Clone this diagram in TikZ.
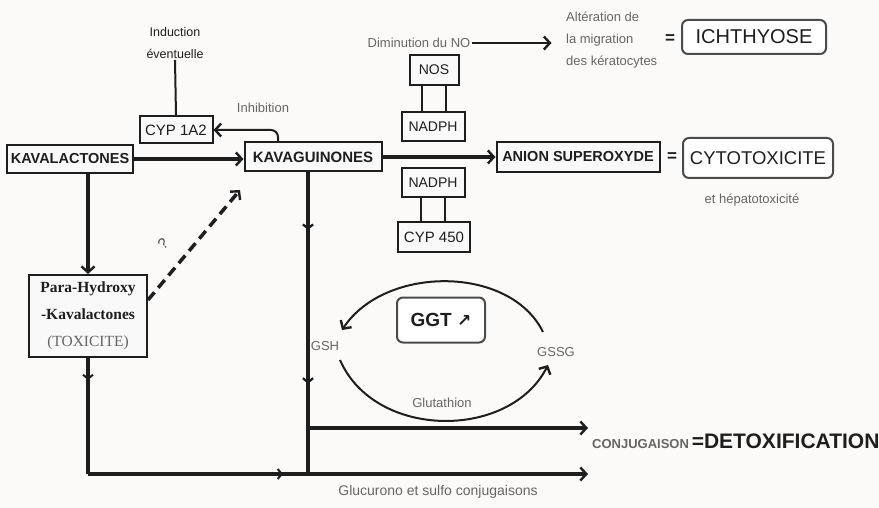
\documentclass[tikz,border=0pt]{standalone}
\usepackage{fontspec}
\setmainfont{Liberation Sans}
\newfontfamily\serifb{Liberation Serif}
\newfontfamily\symb{DejaVu Sans}
\usetikzlibrary{arrows.meta,decorations.markings}
\definecolor{bgc}{HTML}{FCFAF8}
\definecolor{ink}{HTML}{1E1E1E}
\definecolor{lite}{HTML}{666666}
\tikzset{
  box/.style={draw=ink, line width=2pt, fill=white!95!gray, inner sep=1pt, text=ink},
  rbox/.style={draw=ink!80, line width=2pt, rounded corners=6pt, fill=white, inner sep=2pt, text=ink},
  lbl/.style={text=lite, inner sep=1pt},
  tip/.style={-{Straight Barb[length=6pt,width=13pt,line width=2.4pt]}},
  thin/.style={line width=2pt, draw=ink},
  thick/.style={line width=3.5pt, draw=ink},
  midtip/.style={postaction={decorate}, decoration={markings,
     mark=at position #1 with {\arrow{Straight Barb[length=4pt,width=10pt,line width=2pt]}}}},
}
\newcommand{\fs}[1]{\fontsize{#1}{#1}\selectfont}
\begin{document}
\begin{tikzpicture}[x=1pt,y=-1pt]
\fill[bgc] (0,0) rectangle (879,508);
\useasboundingbox (0,0) rectangle (879,508);

% main boxes
\node[box, minimum width=126pt, minimum height=28pt, font=\fs{14.5}\bfseries] (kl) at (70,159) {KAVALACTONES};
\node[box, minimum width=137pt, minimum height=29pt, font=\fs{15}\bfseries] (kg) at (313,157) {KAVAGUINONES};
\node[box, minimum width=73pt, minimum height=27pt, font=\fs{15}] (cyp1) at (176,130) {CYP 1A2};
\node[box, minimum width=49pt, minimum height=30pt, font=\fs{14}] (nos) at (434,70) {NOS};
\node[box, minimum width=63pt, minimum height=29pt, font=\fs{14}] (nad1) at (433,127) {NADPH};
\node[box, minimum width=63pt, minimum height=29pt, font=\fs{14}] (nad2) at (433,183) {NADPH};
\node[box, minimum width=72pt, minimum height=30pt, font=\fs{15}] (cyp450) at (434,237) {CYP 450};
\node[box, minimum width=163pt, minimum height=30pt, font=\fs{14.5}\bfseries] (anion) at (578,157) {ANION SUPEROXYDE};
\node[rbox, minimum width=150pt, minimum height=40pt, font=\fs{18.5}] (cyto) at (758,158) {CYTOTOXICITE};
\node[rbox, minimum width=144pt, minimum height=34pt, font=\fs{20}] (ichth) at (754,37) {ICHTHYOSE};
\node[text=ink, font=\fs{17}\bfseries] (eq1) at (670,39) {=};
\node[text=ink, font=\fs{17}\bfseries] (eq2) at (672,157) {=};
\node[lbl, font=\fs{13}] (hep) at (752,200) {et hépatotoxicité};
\node[lbl, font=\fs{13}] (dimno) at (419,43) {Diminution du NO};
\node[lbl, align=left, anchor=west, font=\fontsize{13}{22}\selectfont] (alt) at (565,40) {Altération de\\la migration\\des kératocytes};
\node[align=center, text=ink, inner sep=1pt, font=\fontsize{12.5}{22}\selectfont] (induc) at (175,43) {Induction\\éventuelle};
\node[lbl, font=\fs{13}] (inhib) at (263,108) {Inhibition};
\node[box, align=center, minimum width=118pt, minimum height=82pt, font=\fontsize{15.5}{27}\selectfont\serifb\bfseries] (para) at (88,316)
  {Para-Hydroxy\\-Kavalactones\\{\mdseries\color{lite}(TOXICITE)}};
\node[rbox, minimum width=88pt, minimum height=45pt, font=\fs{19}\bfseries] (ggt) at (441,320) {GGT {\symb\fs{17}↗}};
\node[lbl, font=\fs{13}] (gsh) at (325,346) {GSH};
\node[lbl, font=\fs{13}] (gssg) at (556,352) {GSSG};
\node[lbl, font=\fs{13}] (glu) at (442,403) {Glutathion};
\node[lbl, font=\fs{14}] (gsc) at (438,492) {Glucurono et sulfo conjugaisons};
\node[anchor=west, text=ink, inner sep=0pt] (conj) at (592,441) {{\fs{13}\bfseries\color{lite}CONJUGAISON} {\fs{21}\bfseries =DETOXIFICATION}};
\node[text=ink!80, inner sep=0pt, rotate=40, font=\fs{15}] (qm) at (163,244) {?};

% coordinates
\coordinate (dq) at (240,190);
\coordinate (j1) at (308,428);
\coordinate (j2) at (308,474);
\coordinate (e1) at (588,428);
\coordinate (e2) at (588,474);
\coordinate (b0) at (88,474);
\coordinate (gshtop) at (342,330);
\coordinate (gshbot) at (340,360);
\coordinate (gssgtop) at (543,332);
\coordinate (gssgbot) at (548,365);

% connectors
\draw[thick, tip] (kl.east) -- (kl.east -| kg.west);
\draw[thick, tip] (kg.east) -- (kg.east -| anion.west);
\draw[thin, tip, rounded corners=7pt] ([xshift=-35pt]kg.north) |- (cyp1.east);
\draw[thin] (induc.south) -- (cyp1.north);
\draw[thin] ([xshift=-12pt]nos.south) -- ([xshift=-12pt]nos.south |- nad1.north);
\draw[thin] ([xshift=12pt]nos.south) -- ([xshift=12pt]nos.south |- nad1.north);
\draw[thin] ([xshift=-12pt]nad2.south) -- ([xshift=-12pt]nad2.south |- cyp450.north);
\draw[thin] ([xshift=12pt]nad2.south) -- ([xshift=12pt]nad2.south |- cyp450.north);
\draw[thin, tip] (dimno.east) -- ++(80,0);
\draw[thick, tip] (kl.south -| para.north) -- (para.north);
\draw[thick, dash pattern=on 10pt off 6pt, tip] ([yshift=16pt]para.east) -- (dq);
\draw[thick, midtip=0.19] (para.south) -- (b0);
\draw[thick, tip, midtip=0.39] (b0) -- (e2);
\draw[thick, midtip=0.19, midtip=0.7] (kg.south -| j1) -- (j2);
\draw[thick, tip] (j1) -- (e1);
\draw[thin, tip] (gssgtop) .. controls (510,265) and (385,265) .. (gshtop);
\draw[thin, tip] (gshbot) .. controls (375,440) and (510,440) .. (gssgbot);
\end{tikzpicture}
\end{document}
